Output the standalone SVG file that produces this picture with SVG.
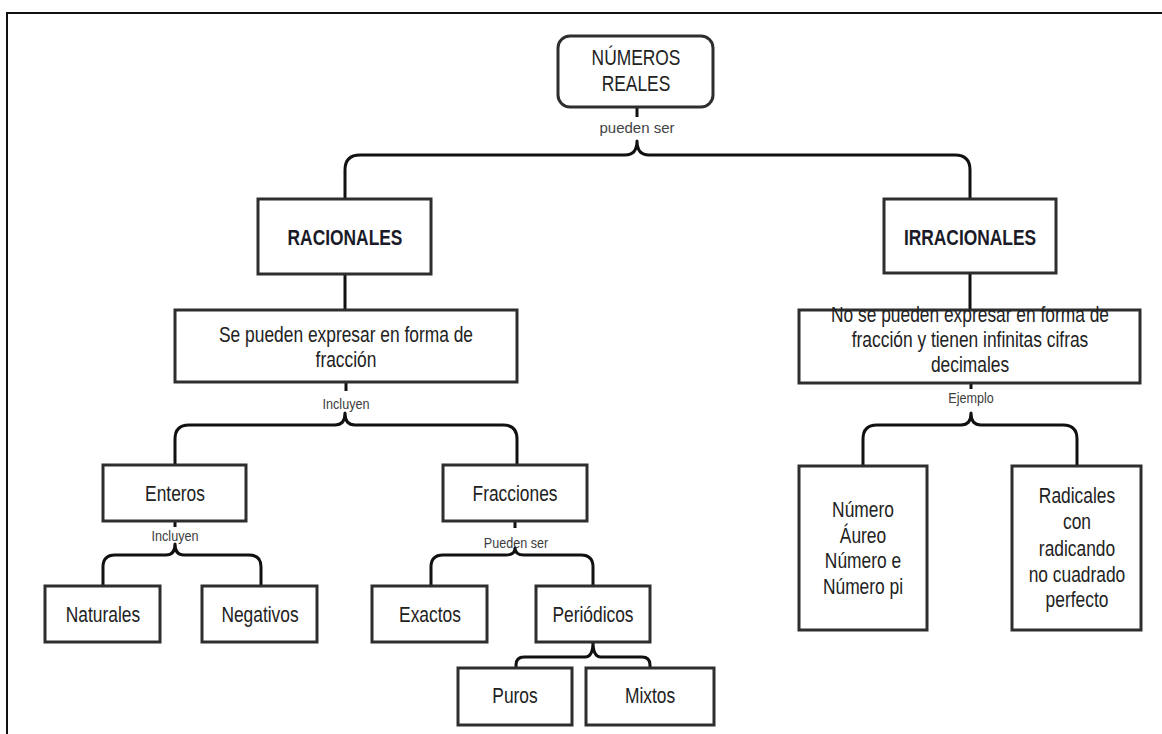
<svg xmlns="http://www.w3.org/2000/svg" width="1162" height="734" viewBox="0 0 1162 734">
  <style>
    .box { fill: #ffffff; stroke: #2e2e2e; stroke-width: 3; }
    .frame { fill: none; stroke: #111111; stroke-width: 2; }
    .wire { fill: none; stroke: #111111; stroke-width: 3; stroke-linejoin: round; }
    .t { font-family: "Liberation Sans", Arial, sans-serif; font-size: 22px; fill: #222222; text-anchor: middle;
         transform-box: fill-box; transform-origin: center; transform: scaleX(0.79); }
    .b { font-weight: bold; fill: #1a1a28; }
    .lbl { font-family: "Liberation Sans", Arial, sans-serif; font-size: 14px; fill: #3c3c3c; text-anchor: middle;
           transform-box: fill-box; transform-origin: center; transform: scaleX(0.9); }
    .lbl2 { font-family: "Liberation Sans", Arial, sans-serif; font-size: 15px; fill: #444444; text-anchor: middle; }
  </style>

  <rect width="1162" height="734" fill="#ffffff"/>

  <!-- page frame (top and left edges) -->
  <path class="frame" d="M 7 734 V 13 H 1162"/>

  <!-- connectors -->
  <g id="connectors">
    <!-- Números reales -> Racionales / Irracionales -->
    <path class="wire" d="M 637 108 V 117"/>
    <path class="wire" d="M 345 199 V 170 Q 345 155 360 155 H 625 Q 637 155 637 141 Q 637 155 649 155 H 955 Q 970 155 970 170 V 199"/>
    <text class="lbl2" x="637" y="133">pueden ser</text>

    <!-- Racionales -> definición -->
    <path class="wire" d="M 345 274 V 310"/>
    <!-- Irracionales -> definición -->
    <path class="wire" d="M 970 273 V 310"/>

    <!-- definición racionales -> Enteros / Fracciones -->
    <path class="wire" d="M 346 382 V 391"/>
    <path class="wire" d="M 175 465 V 439 Q 175 425 189 425 H 335 Q 345 425 345 413 Q 345 425 355 425 H 503 Q 517 425 517 439 V 465"/>
    <text class="lbl" x="346" y="409">Incluyen</text>

    <!-- Enteros -> Naturales / Negativos -->
    <path class="wire" d="M 175 521 V 527"/>
    <path class="wire" d="M 103 586 V 567 Q 103 555 115 555 H 166 Q 175 555 175 544 Q 175 555 184 555 H 249 Q 261 555 261 567 V 586"/>
    <text class="lbl" x="175" y="541">Incluyen</text>

    <!-- Fracciones -> Exactos / Periódicos -->
    <path class="wire" d="M 515 521 V 528"/>
    <path class="wire" d="M 431 586 V 567 Q 431 555 443 555 H 506 Q 515 555 515 548 Q 515 555 524 555 H 581 Q 593 555 593 567 V 586"/>
    <text class="lbl" x="516" y="548">Pueden ser</text>

    <!-- Periódicos -> Puros / Mixtos -->
    <path class="wire" d="M 516 668 V 665 Q 516 657 524 657 H 585 Q 593 657 593 642 Q 593 657 601 657 H 642 Q 650 657 650 665 V 668"/>

    <!-- definición irracionales -> ejemplos -->
    <path class="wire" d="M 971 383 V 389"/>
    <path class="wire" d="M 863 466 V 439 Q 863 425 877 425 H 961 Q 971 425 971 413 Q 971 425 981 425 H 1063 Q 1077 425 1077 439 V 466"/>
    <text class="lbl" x="971" y="403">Ejemplo</text>
  </g>

  <!-- nodes -->
  <g id="numeros-reales">
    <rect class="box" x="558" y="36" width="155" height="71" rx="12" ry="12"/>
    <text class="t" x="636" y="65">NÚMEROS<tspan x="636" y="91">REALES</tspan></text>
  </g>

  <g id="racionales">
    <rect class="box" x="258" y="199" width="173" height="75"/>
    <text class="t b" x="345" y="245">RACIONALES</text>
  </g>

  <g id="irracionales">
    <rect class="box" x="884" y="199" width="172" height="74"/>
    <text class="t b" x="970" y="245">IRRACIONALES</text>
  </g>

  <g id="def-racionales">
    <rect class="box" x="175" y="310" width="342" height="72"/>
    <text class="t" x="346" y="342">Se pueden expresar en forma de<tspan x="346" y="367">fracción</tspan></text>
  </g>

  <g id="def-irracionales">
    <rect class="box" x="799" y="310" width="341" height="73"/>
    <text class="t" x="970" y="322">No se pueden expresar en forma de<tspan x="970" y="347">fracción y tienen infinitas cifras</tspan><tspan x="970" y="372">decimales</tspan></text>
  </g>

  <g id="enteros">
    <rect class="box" x="103" y="465" width="143" height="56"/>
    <text class="t" x="175" y="501">Enteros</text>
  </g>

  <g id="fracciones">
    <rect class="box" x="443" y="465" width="144" height="56"/>
    <text class="t" x="515" y="501">Fracciones</text>
  </g>

  <g id="naturales">
    <rect class="box" x="45" y="586" width="115" height="56"/>
    <text class="t" x="103" y="622">Naturales</text>
  </g>

  <g id="negativos">
    <rect class="box" x="202" y="586" width="115" height="56"/>
    <text class="t" x="260" y="622">Negativos</text>
  </g>

  <g id="exactos">
    <rect class="box" x="372" y="586" width="115" height="56"/>
    <text class="t" x="430" y="622">Exactos</text>
  </g>

  <g id="periodicos">
    <rect class="box" x="536" y="586" width="114" height="56"/>
    <text class="t" x="593" y="622">Periódicos</text>
  </g>

  <g id="puros">
    <rect class="box" x="458" y="668" width="114" height="57"/>
    <text class="t" x="515" y="703">Puros</text>
  </g>

  <g id="mixtos">
    <rect class="box" x="586" y="668" width="128" height="57"/>
    <text class="t" x="650" y="703">Mixtos</text>
  </g>

  <g id="ejemplos-constantes">
    <rect class="box" x="799" y="466" width="128" height="164"/>
    <text class="t" x="863" y="517">Número<tspan x="863" y="543">Áureo</tspan><tspan x="863" y="568">Número e</tspan><tspan x="863" y="594">Número pi</tspan></text>
  </g>

  <g id="ejemplos-radicales">
    <rect class="box" x="1012" y="466" width="129" height="164"/>
    <text class="t" x="1077" y="503">Radicales<tspan x="1077" y="529">con</tspan><tspan x="1077" y="556">radicando</tspan><tspan x="1077" y="582">no cuadrado</tspan><tspan x="1077" y="607">perfecto</tspan></text>
  </g>
</svg>
